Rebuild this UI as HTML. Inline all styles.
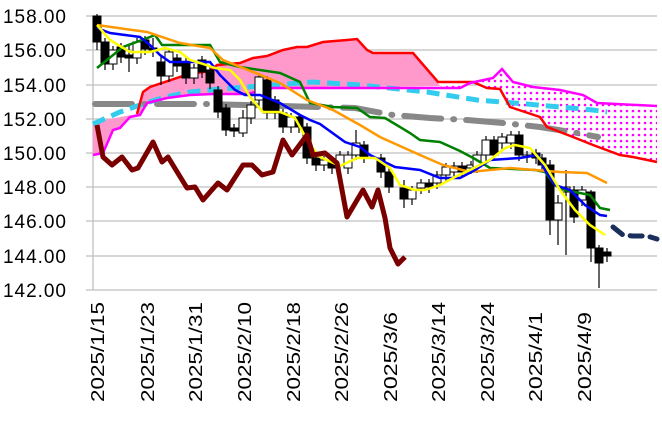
<!DOCTYPE html>
<html><head><meta charset="utf-8"><style>
html,body{margin:0;padding:0;background:#fff;}
svg{display:block;}
text{font-family:"Liberation Sans",sans-serif;fill:#000;}
</style></head><body>
<svg id="s" width="662" height="429" viewBox="0 0 662 429" xmlns="http://www.w3.org/2000/svg">
<defs>
<pattern id="dots" width="6" height="6" patternUnits="userSpaceOnUse">
<rect width="6" height="6" fill="#fff"/>
<circle cx="3" cy="3" r="1.3" fill="#ff00ff"/>
</pattern>
</defs>
<g stroke="#bfbfbf" stroke-width="1.3">
<line x1="86" y1="16" x2="657" y2="16"/><line x1="86" y1="50" x2="657" y2="50"/>
<line x1="86" y1="85" x2="657" y2="85"/><line x1="86" y1="119" x2="657" y2="119"/>
<line x1="86" y1="153" x2="657" y2="153"/><line x1="86" y1="187" x2="657" y2="187"/>
<line x1="86" y1="221" x2="657" y2="221"/><line x1="86" y1="256" x2="657" y2="256"/>
<line x1="86" y1="290" x2="657" y2="290"/><line x1="93" y1="16" x2="93" y2="290"/>
</g>
<g font-size="19" text-anchor="end">
<text x="66" y="23" textLength="63">158.00</text><text x="66" y="57" textLength="63">156.00</text>
<text x="66" y="92" textLength="63">154.00</text><text x="66" y="126" textLength="63">152.00</text>
<text x="66" y="160" textLength="63">150.00</text><text x="66" y="194" textLength="63">148.00</text>
<text x="66" y="228" textLength="63">146.00</text><text x="66" y="263" textLength="63">144.00</text>
<text x="66" y="297" textLength="63">142.00</text>
</g>
<g id="dates" font-size="18"></g>
<polygon fill="#ff99cc" points="93,122 137,114 143,92 150,87 180,77 190,74 210,71 217,65 240,63 253,58 267,56 283,50 297,47 307,47 323,42 347,40 357,39 367,50 373,53 413,53 440,86 273,88 247,94 213,94 190,95 167,98 147,103 140,115 130,117 120,128 113,130 103,153 93,155"/>
<polygon fill="url(#dots)" points="440,86 460,88 470,83 493,78 502,69 513,82 533,87 560,90 583,95 597,103 657,106 657,162 633,157 620,155 593,145 573,137 547,127 540,117 510,107 500,89 487,88 473,82 438,82"/>
<polyline fill="none" stroke="#888" stroke-width="6" stroke-dasharray="37,12,1,12" stroke-linecap="round" points="95,104 207,104 282,106 355,108 393,115 430,118 467,120 503,123 540,127 577,133 598,137"/>
<polyline fill="none" stroke="#33ccee" stroke-width="5" stroke-dasharray="13,7" points="93,124 120,112 140,105 165,97 190,92 220,89 260,86 313,82 360,85 427,92 477,100 527,104 593,110 607,112"/>
<polyline fill="none" stroke="#ff0000" stroke-width="2.5" points="137,114 143,92 150,87 180,77 190,74 210,71 217,65 240,63 253,58 267,56 283,50 297,47 307,47 323,42 347,40 357,39 367,50 373,53 413,53 438,82 473,82 487,88 500,89 510,107 540,117 547,127 573,137 593,145 620,155 633,157 657,162"/>
<polyline fill="none" stroke="#ff00ff" stroke-width="2.5" points="93,155 103,153 113,130 120,128 130,117 140,115 147,103 167,98 190,95 213,94 247,94 273,88 460,88 470,83 493,78 502,69 513,82 533,87 560,90 583,95 597,103 657,106"/>
<g id="candles"></g>
<polyline fill="none" stroke="#008000" stroke-width="2.5" points="97,68 123,47 150,37 155,35 162,45 210,45 220,62 240,67 280,73 300,82 310,103 333,107 357,108 370,117 385,118 410,133 420,140 440,142 460,151 475,159 490,168 535,170 545,172 555,185 565,190 590,195 600,208 610,210"/>
<polyline fill="none" stroke="#ff9900" stroke-width="2.5" points="97,25 147,32 180,43 210,48 223,60 253,72 280,83 307,100 333,110 360,125 380,137 420,155 443,165 470,172 510,168 560,172 587,173 607,183"/>
<polyline fill="none" stroke="#0000ff" stroke-width="2.5" points="97,28 110,33 125,35 140,37 150,45 160,55 170,62 210,62 220,75 235,90 245,95 260,95 280,103 300,115 310,120 320,124 345,142 360,147 370,155 395,167 420,170 440,178 460,178 475,170 490,160 520,158 538,155 545,170 555,185 570,190 585,205 600,215 607,216"/>
<polyline fill="none" stroke="#ffff00" stroke-width="2.5" points="97,25 110,40 130,52 150,52 165,48 180,52 190,60 200,63 215,68 230,70 240,80 250,97 263,112 280,112 295,118 310,145 320,157 340,166 357,158 375,158 390,168 400,185 415,190 425,190 440,185 455,177 470,170 490,160 505,148 515,145 530,148 545,165 560,190 575,210 590,225 605,235"/>
<polyline fill="none" stroke="#7a0000" stroke-width="5" stroke-linejoin="round" points="97,125 103,157 112,165 122,157 132,170 138,168 153,142 162,162 168,157 187,188 195,187 203,200 218,183 227,190 243,165 252,165 262,175 273,172 283,140 292,155 307,135 313,155 325,153 337,163 347,217 363,190 372,207 378,190 385,218 390,248 398,264 405,257"/>
<polyline fill="none" stroke="#1a2f5a" stroke-width="5" stroke-dasharray="12,8" stroke-linecap="round" points="613,227 623,235 633,236 647,236 657,239"/>
</svg>
<script>
var NS="http://www.w3.org/2000/svg";
var d=document.getElementById("dates");
var xs=[97,147,195,244,293,341,390,438,487,535,584];
var ls=["2025/1/15","2025/1/23","2025/1/31","2025/2/10","2025/2/18","2025/2/26","2025/3/6","2025/3/14","2025/3/24","2025/4/1","2025/4/9"];
for(var i=0;i<xs.length;i++){var t=document.createElementNS(NS,"text");
var w=ls[i].length==9?100:90;
t.setAttribute("transform","translate("+(xs[i]+7)+",402) rotate(-90)");
t.setAttribute("textLength",w);t.setAttribute("lengthAdjust","spacingAndGlyphs");
t.textContent=ls[i];d.appendChild(t);}
var c=[[97,16,42,1,14,50],[105,42,64,1],[113,50,64,0],[121,47,57,1],[129,55,58,1,45,72],[137,42,58,0],[145,40,49,1],[153,48,50,1,38,57],[161,62,76,1,55,85],[169,52,76,0],[177,58,66,1],[186,62,78,1],[194,68,78,0],[202,60,72,1],[210,70,83,1],[218,90,112,1],[226,108,130,1],[234,128,131,1],[243,118,133,0,110,137],[251,105,118,0],[259,77,100,0],[267,80,113,1],[275,100,113,1],[283,113,127,1],[291,117,127,0],[299,117,127,1],[307,127,158,1],[316,158,165,1],[324,160,165,0],[332,163,168,1],[340,155,165,0],[348,155,168,0],[356,143,155,0,130,160],[364,145,157,1],[381,158,172,1],[389,172,187,1],[404,188,199,1,180,208],[412,190,199,0],[421,183,188,0],[429,183,187,1],[437,175,183,0],[446,167,175,0],[454,166,172,0],[462,166,172,1],[471,165,168,0],[477,155,167,0],[486,140,155,0],[494,140,155,1],[502,137,143,0],[511,135,143,0],[519,135,155,1],[527,155,157,0],[536,153,158,1],[542,158,165,1],[550,165,220,1,160,235],[558,203,220,0,195,245],[566,187,192,0,170,255],[574,190,217,1],[582,190,200,0],[591,192,248,1,190,262],[599,248,263,1,245,288],[607,252,256,1]];
var g=document.getElementById("candles");
c.forEach(function(k){var hi=k[4]||k[1]-4,lo=k[5]||k[2]+6;
var l=document.createElementNS(NS,"line");l.setAttribute("x1",k[0]);l.setAttribute("x2",k[0]);l.setAttribute("y1",hi);l.setAttribute("y2",lo);l.setAttribute("stroke","#000");l.setAttribute("stroke-width","1.2");g.appendChild(l);
var r=document.createElementNS(NS,"rect");r.setAttribute("x",k[0]-4);r.setAttribute("y",k[1]);r.setAttribute("width",8);r.setAttribute("height",Math.max(1.5,k[2]-k[1]));r.setAttribute("fill",k[3]?"#000":"#fff");r.setAttribute("stroke","#000");r.setAttribute("stroke-width","1");g.appendChild(r);});
</script>
</body></html>
